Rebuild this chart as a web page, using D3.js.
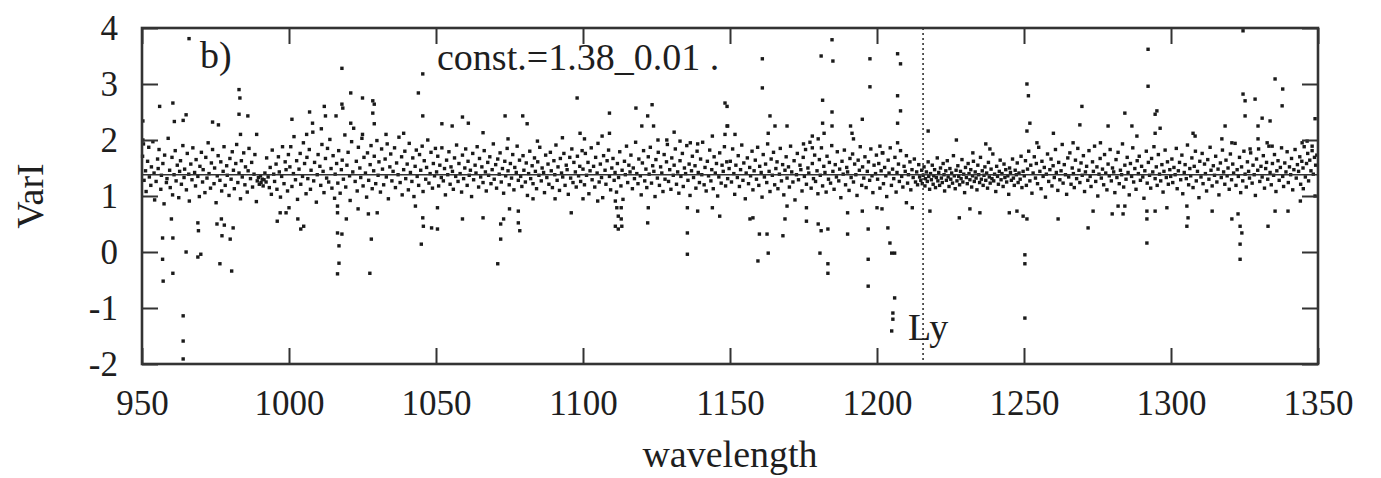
<!DOCTYPE html>
<html>
<head>
<meta charset="utf-8">
<script src="https://cdn.jsdelivr.net/npm/d3@7"></script>
</head>
<body style="margin:0;background:#fff">
<script>
// axis ticks
var xTicks = [950, 1000, 1050, 1100, 1150, 1200, 1250, 1300, 1350];
var yTicks = [-2, -1, 0, 1, 2, 3, 4];
var constLevel = 1.38;
var lyWave = 1215.67;

// VarI per wavelength in 50 A pieces
var seg950 = [[950.2,1.71],[950.5,1.93],[950.7,1.28],[951.2,1.45],[951.4,1.08],[951.9,1.62],[952.3,1.87],[952.5,1.34],[953.0,1.19],[953.2,1.52],
[953.7,1.97],[954.1,1.41],[954.3,0.93],[954.8,1.26],[955.3,1.66],[955.5,1.49],[955.8,1.83],[956.4,1.12],[956.6,1.37],[957.1,1.58],
[957.5,0.86],[957.7,1.73],[958.3,1.24],[958.5,1.31],[958.9,2.03],[959.4,1.46],[959.6,1.15],[960.2,1.69],[960.4,1.02],[960.9,1.38],
[961.3,1.81],[961.6,1.27],[962.0,1.55],[962.5,0.97],[962.8,1.44],[963.1,1.63],[963.4,1.21],[963.9,1.90],[964.3,1.33],[964.5,1.48],
[965.1,1.11],[965.4,1.76],[965.9,1.39],[966.1,0.91],[966.6,1.57],[967.0,1.29],[967.3,1.86],[967.9,1.42],[968.2,1.18],[968.4,1.65],
[969.0,1.35],[969.5,0.99],[969.7,1.53],[970.2,1.78],[970.6,1.25],[970.8,1.47],[971.4,1.06],[971.7,1.69],[972.1,1.32],[972.5,1.95],
[972.8,1.40],[973.3,1.14],[973.6,1.59],[974.0,1.83],[974.5,1.22],[974.7,1.50],[975.2,0.88],[975.6,1.36],[975.9,1.72],[976.5,1.28],
[976.8,1.61],[977.1,1.09],[977.6,1.44],[977.9,1.88],[978.3,1.19],[978.8,1.54],[979.0,1.37],[979.6,1.01],[979.9,1.67],[980.3,1.30],
[980.7,1.79],[981.1,1.46],[981.4,1.13],[981.9,1.58],[982.2,1.92],[982.6,1.24],[983.0,1.41],[983.5,0.95],[983.8,1.63],[984.1,1.34],
[984.6,1.77],[985.0,1.20],[985.2,1.52],[985.8,1.07],[986.1,1.45],[986.4,1.85],[986.9,1.31],[987.3,1.60],[987.6,1.16],[988.1,1.39],
[988.4,1.74],[988.9,0.90],[989.2,1.27],[989.6,1.33],[989.9,1.21],[990.3,1.36],[990.5,1.24],[990.9,1.30],[991.2,1.18],[991.5,1.29],
[991.8,1.41],[992.2,1.25],[992.4,1.68],[992.9,1.34],[993.3,1.15],[993.6,1.51],[994.0,1.03],[994.3,1.82],[994.8,1.39],[995.1,1.26],
[995.6,1.57],[995.9,1.12],[996.4,1.70],[996.7,1.43],[997.1,0.98],[997.5,1.35],[997.8,1.88],[998.3,1.22],[998.7,1.61],[999.0,1.47],
[999.5,1.09],[999.8,1.74]];

var seg1000 = [[1000.3,1.52],[1000.6,1.88],[1001.0,1.17],[1001.5,1.40],[1001.7,2.06],[1002.2,1.29],[1002.6,1.63],[1002.9,0.94],[1003.4,1.48],[1003.8,1.76],
[1004.0,1.21],[1004.6,1.35],[1004.9,1.95],[1005.3,1.58],[1005.8,1.04],[1006.1,1.69],[1006.4,1.31],[1006.9,1.83],[1007.3,1.12],[1007.5,1.46],
[1008.1,2.14],[1008.4,1.27],[1008.7,1.60],[1009.3,0.89],[1009.6,1.38],[1009.9,1.74],[1010.5,1.53],[1010.8,1.19],[1011.2,1.92],[1011.6,1.44],
[1011.9,1.06],[1012.4,1.67],[1012.8,1.32],[1013.1,1.85],[1013.5,1.25],[1013.9,2.01],[1014.3,1.49],[1014.6,1.14],[1015.0,1.72],[1015.5,0.96],
[1015.7,1.39],[1016.2,1.58],[1016.6,1.23],[1016.9,1.81],[1017.4,1.05],[1017.8,1.47],[1018.1,1.64],[1018.5,1.30],[1019.0,2.09],[1019.3,1.16],
[1019.7,1.55],[1020.1,1.78],[1020.6,1.36],[1020.8,0.92],[1021.3,1.97],[1021.7,1.43],[1022.0,2.21],[1022.5,1.26],[1022.9,1.62],[1023.2,1.09],
[1023.6,1.87],[1024.1,1.50],[1024.4,1.33],[1024.8,2.03],[1025.2,1.18],[1025.5,1.69],[1026.0,1.41],[1026.4,0.98],[1026.7,1.77],[1027.1,1.28],
[1027.6,1.56],[1027.9,1.90],[1028.3,1.13],[1028.8,1.45],[1029.0,1.71],[1029.5,1.22],[1029.9,1.99],[1030.3,1.37],[1030.6,1.61],[1031.1,1.07],
[1031.5,1.84],[1031.8,1.48],[1032.2,1.20],[1032.7,1.66],[1033.1,1.34],[1033.4,1.93],[1033.8,0.95],[1034.3,1.52],[1034.6,1.75],[1035.0,1.27],
[1035.4,1.44],[1035.9,1.86],[1036.2,1.15],[1036.6,1.59],[1037.1,1.38],[1037.4,2.05],[1037.8,1.24],[1038.3,1.70],[1038.5,1.02],[1039.0,1.47],
[1039.4,1.80],[1039.7,1.31],[1040.2,1.57],[1040.6,1.11],[1040.9,1.94],[1041.3,1.42],[1041.8,1.26],[1042.1,1.68],[1042.5,0.99],[1042.9,1.53],
[1043.3,1.82],[1043.6,1.35],[1044.1,1.19],[1044.4,1.74],[1044.8,1.46],[1045.3,1.89],[1045.6,1.08],[1046.0,1.63],[1046.5,1.30],[1046.8,1.51],
[1047.2,2.00],[1047.6,1.23],[1048.0,1.40],[1048.3,1.78],[1048.8,1.14],[1049.1,1.58],[1049.5,1.36],[1049.8,1.85]];

var seg1050 = [[1050.2,1.43],[1050.6,1.71],[1050.9,1.18],[1051.3,1.55],[1051.8,1.33],[1052.0,1.86],[1052.5,1.27],[1052.9,1.49],[1053.2,1.02],[1053.6,1.64],
[1054.0,1.38],[1054.4,1.79],[1054.8,1.21],[1055.1,1.52],[1055.6,1.44],[1055.9,1.12],[1056.3,1.68],[1056.7,1.35],[1057.0,1.91],[1057.5,1.26],
[1057.8,1.58],[1058.2,1.40],[1058.7,1.07],[1059.0,1.73],[1059.4,1.31],[1059.8,1.50],[1060.1,1.84],[1060.6,1.19],[1060.9,1.62],[1061.3,1.37],
[1061.7,1.46],[1062.1,0.99],[1062.5,1.76],[1062.8,1.29],[1063.3,1.55],[1063.6,1.41],[1064.0,1.88],[1064.5,1.16],[1064.8,1.67],[1065.2,1.34],
[1065.6,1.52],[1066.0,1.24],[1066.4,1.81],[1066.8,1.43],[1067.1,1.09],[1067.6,1.60],[1067.9,1.37],[1068.3,1.70],[1068.7,1.22],[1069.1,1.47],
[1069.5,1.93],[1069.8,1.30],[1070.3,1.56],[1070.6,1.14],[1071.0,1.66],[1071.5,1.39],[1071.8,1.77],[1072.2,1.25],[1072.6,1.49],[1073.0,1.05],
[1073.4,1.62],[1073.7,1.36],[1074.2,1.85],[1074.5,1.45],[1074.9,1.20],[1075.3,1.58],[1075.7,1.32],[1076.1,1.74],[1076.5,1.11],[1076.8,1.51],
[1077.3,1.42],[1077.6,1.89],[1078.0,1.28],[1078.4,1.64],[1078.8,1.35],[1079.2,1.17],[1079.6,1.72],[1079.9,1.46],[1080.4,1.25],[1080.7,1.59],
[1081.1,1.01],[1081.5,1.40],[1081.9,1.80],[1082.2,1.31],[1082.7,1.54],[1083.0,1.22],[1083.5,1.68],[1083.8,1.44],[1084.2,1.13],[1084.6,1.61],
[1085.0,1.37],[1085.3,1.87],[1085.8,1.27],[1086.1,1.50],[1086.6,1.42],[1086.9,1.06],[1087.3,1.73],[1087.7,1.33],[1088.1,1.57],[1088.4,1.21],
[1088.9,1.78],[1089.2,1.45],[1089.6,1.15],[1090.1,1.63],[1090.4,1.38],[1090.8,1.91],[1091.2,1.28],[1091.5,1.52],[1092.0,1.10],[1092.3,1.67],
[1092.7,1.41],[1093.1,1.34],[1093.5,1.76],[1093.9,1.19],[1094.3,1.55],[1094.6,1.47],[1095.0,1.03],[1095.5,1.69],[1095.8,1.32],[1096.2,1.84],
[1096.6,1.24],[1096.9,1.60],[1097.4,1.43],[1097.7,1.16],[1098.1,1.71],[1098.5,1.36],[1098.9,1.53],[1099.2,1.26],[1099.7,1.81]];

var seg1100 = [[1100.0,1.48],[1100.5,1.20],[1100.8,1.76],[1101.2,1.37],[1101.7,1.60],[1102.0,1.04],[1102.4,1.45],[1102.8,1.86],[1103.1,1.29],[1103.6,1.53],
[1104.0,1.16],[1104.3,1.69],[1104.8,1.41],[1105.1,1.94],[1105.5,1.25],[1105.9,1.57],[1106.3,1.33],[1106.7,0.97],[1107.0,1.72],[1107.5,1.46],
[1107.8,1.21],[1108.2,1.63],[1108.7,1.82],[1109.0,1.35],[1109.4,1.11],[1109.8,1.50],[1110.2,1.67],[1110.6,1.28],[1110.9,1.42],[1111.4,1.07],
[1111.7,1.58],[1112.1,1.33],[1112.5,1.79],[1112.9,1.18],[1113.3,1.46],[1113.6,0.94],[1114.1,1.62],[1114.4,1.38],[1114.8,1.89],[1115.2,1.24],
[1115.6,1.55],[1116.0,1.43],[1116.3,1.73],[1116.8,1.13],[1117.1,1.50],[1117.5,1.31],[1117.9,1.96],[1118.3,1.40],[1118.7,1.22],[1119.0,1.66],
[1119.5,1.36],[1119.8,1.02],[1120.2,1.59],[1120.6,1.81],[1121.0,1.27],[1121.4,1.48],[1121.7,1.15],[1122.2,1.70],[1122.5,1.39],[1122.9,1.87],
[1123.3,1.23],[1123.7,1.54],[1124.1,1.44],[1124.5,0.99],[1124.8,1.65],[1125.3,1.32],[1125.6,1.78],[1126.0,1.19],[1126.4,1.52],[1126.8,1.41],
[1127.2,1.08],[1127.6,1.74],[1127.9,1.30],[1128.4,1.61],[1128.7,1.92],[1129.1,1.26],[1129.5,1.47],[1129.9,1.12],[1130.2,1.68],[1130.7,1.37],
[1131.0,1.55],[1131.4,1.84],[1131.8,1.21],[1132.2,1.43],[1132.6,1.05],[1133.0,1.63],[1133.3,1.35],[1133.8,1.76],[1134.1,1.17],[1134.5,1.50],
[1134.9,1.40],[1135.3,1.90],[1135.7,1.28],[1136.1,1.57],[1136.4,1.01],[1136.9,1.45],[1137.2,1.71],[1137.6,1.33],[1138.1,1.54],[1138.4,1.14],
[1138.8,1.80],[1139.2,1.42],[1139.6,1.24],[1140.0,1.66],[1140.4,1.38],[1140.7,1.96],[1141.2,1.20],[1141.5,1.51],[1141.9,1.09],[1142.3,1.62],
[1142.7,1.36],[1143.1,1.82],[1143.5,1.27],[1143.8,1.47],[1144.3,1.13],[1144.6,1.70],[1145.0,1.41],[1145.4,1.58],[1145.8,1.00],[1146.2,1.34],
[1146.5,1.77],[1147.0,1.23],[1147.3,1.55],[1147.7,1.44],[1148.1,1.88],[1148.5,1.18],[1148.9,1.61],[1149.2,1.31],[1149.7,1.49]];

var seg1150 = [[1150.1,1.62],[1150.5,1.25],[1150.9,1.84],[1151.3,1.40],[1151.6,1.03],[1152.0,1.55],[1152.5,1.33],[1152.8,1.72],[1153.2,1.17],[1153.6,1.47],
[1154.0,1.91],[1154.4,1.28],[1154.7,1.59],[1155.2,0.95],[1155.5,1.41],[1155.9,1.68],[1156.3,1.22],[1156.7,1.51],[1157.0,1.36],[1157.5,1.80],
[1157.8,1.11],[1158.2,1.45],[1158.6,1.64],[1159.0,1.30],[1159.4,1.87],[1159.8,1.19],[1160.1,1.53],[1160.6,1.42],[1160.9,0.98],[1161.3,1.74],
[1161.7,1.34],[1162.1,1.57],[1162.5,1.24],[1162.8,1.93],[1163.3,1.44],[1163.6,1.08],[1164.0,1.66],[1164.4,1.37],[1164.8,1.78],[1165.2,1.20],
[1165.6,1.49],[1166.0,1.61],[1166.3,1.13],[1166.8,1.39],[1167.1,1.85],[1167.5,1.27],[1167.9,1.56],[1168.3,1.02],[1168.7,1.46],[1169.1,1.70],
[1169.4,1.32],[1169.9,1.52],[1170.2,1.16],[1170.6,1.89],[1171.0,1.43],[1171.4,1.25],[1171.8,1.63],[1172.1,0.93],[1172.6,1.38],[1172.9,1.76],
[1173.3,1.29],[1173.8,1.55],[1174.1,1.47],[1174.5,1.09],[1174.9,1.69],[1175.3,1.35],[1175.7,1.83],[1176.0,1.21],[1176.5,1.50],[1176.8,1.41],
[1177.2,1.96],[1177.6,1.14],[1178.0,1.58],[1178.4,1.31],[1178.8,1.73],[1179.1,1.26],[1179.6,1.45],[1179.9,1.04],[1180.4,1.65],[1180.7,1.37],
[1181.1,1.86],[1181.5,1.18],[1181.9,1.53],[1182.3,1.42],[1182.7,1.07],[1183.0,1.71],[1183.5,1.30],[1183.8,1.60],[1184.2,1.23],[1184.6,1.90],
[1185.0,1.44],[1185.4,1.12],[1185.8,1.56],[1186.2,1.34],[1186.5,1.79],[1187.0,1.27],[1187.3,1.48],[1187.7,0.97],[1188.1,1.62],[1188.5,1.39],
[1188.9,1.82],[1189.3,1.20],[1189.7,1.51],[1190.0,1.43],[1190.5,1.10],[1190.8,1.67],[1191.2,1.33],[1191.7,1.75],[1192.0,1.25],[1192.4,1.57],
[1192.8,1.38],[1193.2,1.01],[1193.6,1.64],[1194.0,1.46],[1194.3,1.88],[1194.8,1.19],[1195.1,1.52],[1195.5,1.32],[1195.9,1.70],[1196.3,1.15],
[1196.7,1.44],[1197.1,1.61],[1197.5,1.28],[1197.9,1.84],[1198.3,1.36],[1198.6,1.06],[1199.0,1.55],[1199.5,1.40],[1199.8,1.73]];

var seg1200 = [[1200.2,1.30],[1200.6,1.58],[1201.0,1.14],[1201.4,1.45],[1201.8,1.77],[1202.2,1.22],[1202.6,1.51],[1203.0,1.36],[1203.3,0.99],[1203.8,1.64],
[1204.1,1.41],[1204.5,1.86],[1204.9,1.19],[1205.3,1.48],[1205.7,1.31],[1206.1,1.69],[1206.5,1.07],[1206.8,1.42],[1207.3,1.57],[1207.6,1.26],
[1208.0,1.81],[1208.4,1.35],[1208.8,1.16],[1209.2,1.53],[1209.6,1.44],[1210.0,1.72],[1210.4,1.23],[1210.7,1.38],[1211.2,1.61],[1211.5,1.11],
[1211.9,1.47],[1212.3,1.33],[1212.7,1.66],[1213.1,1.25],[1213.5,1.43],[1213.8,1.20],[1214.2,1.56],[1214.5,1.34],[1214.9,1.28],[1215.2,1.46],
[1215.4,1.22],[1215.7,1.37],[1216.0,1.52],[1216.3,1.18],[1216.5,1.31],[1216.8,1.43],[1217.1,1.26],[1217.4,1.61],[1217.6,1.35],[1217.9,1.12],
[1218.2,1.40],[1218.5,1.29],[1218.8,1.55],[1219.1,1.21],[1219.3,1.36],[1219.6,1.47],[1219.9,1.15],[1220.2,1.33],[1220.5,1.68],[1220.7,1.27],
[1221.0,1.42],[1221.3,1.19],[1221.6,1.50],[1221.9,1.32],[1222.2,1.24],[1222.5,1.58],[1222.8,1.38],[1223.0,1.09],[1223.4,1.45],[1223.6,1.28],
[1223.9,1.63],[1224.2,1.34],[1224.5,1.17],[1224.8,1.49],[1225.1,1.30],[1225.4,1.41],[1225.7,1.23],[1226.0,1.72],[1226.3,1.36],[1226.6,1.13],
[1226.9,1.46],[1227.2,1.27],[1227.5,1.54],[1227.8,1.35],[1228.1,1.20],[1228.4,1.44],[1228.6,1.31],[1228.9,1.65],[1229.2,1.25],[1229.5,1.39],
[1229.8,1.06],[1230.1,1.51],[1230.4,1.33],[1230.7,1.22],[1231.0,1.58],[1231.3,1.40],[1231.6,1.29],[1231.9,1.47],[1232.2,1.16],[1232.5,1.36],
[1232.8,1.62],[1233.1,1.26],[1233.4,1.43],[1233.7,1.32],[1234.0,1.11],[1234.3,1.55],[1234.6,1.38],[1234.9,1.24],[1235.2,1.69],[1235.5,1.30],
[1235.8,1.45],[1236.1,1.19],[1236.4,1.37],[1236.7,1.52],[1237.0,1.28],[1237.3,1.41],[1237.6,1.14],[1237.9,1.60],[1238.2,1.34],[1238.5,1.23],
[1238.8,1.48],[1239.1,1.31],[1239.4,1.75],[1239.7,1.27],[1240.0,1.39],[1240.4,1.08],[1240.7,1.53],[1241.0,1.35],[1241.3,1.21],[1241.6,1.44],
[1241.9,1.64],[1242.2,1.29],[1242.5,1.40],[1242.9,1.17],[1243.2,1.57],[1243.5,1.33],[1243.8,1.47],[1244.1,1.25],[1244.5,1.36],[1244.8,1.03],
[1245.1,1.50],[1245.4,1.42],[1245.7,1.28],[1246.1,1.66],[1246.4,1.32],[1246.7,1.19],[1247.0,1.46],[1247.4,1.38],[1247.7,1.59],[1248.0,1.24],
[1248.3,1.41],[1248.7,1.30],[1249.0,1.71],[1249.3,1.15],[1249.7,1.44]];

var seg1250 = [[1250.1,1.36],[1250.5,1.63],[1250.8,1.19],[1251.2,1.48],[1251.6,1.80],[1252.0,1.27],[1252.3,1.55],[1252.7,1.05],[1253.1,1.41],[1253.5,1.70],
[1253.9,1.32],[1254.2,1.58],[1254.6,1.22],[1255.0,1.87],[1255.4,1.44],[1255.8,1.13],[1256.1,1.62],[1256.5,1.35],[1256.9,1.51],[1257.3,0.98],
[1257.6,1.39],[1258.0,1.75],[1258.4,1.26],[1258.8,1.47],[1259.2,1.66],[1259.5,1.18],[1259.9,1.54],[1260.3,1.33],[1260.7,1.83],[1261.0,1.42],
[1261.5,1.10],[1261.8,1.60],[1262.2,1.29],[1262.6,1.45],[1263.0,1.92],[1263.3,1.23],[1263.7,1.56],[1264.1,1.38],[1264.5,1.03],[1264.9,1.68],
[1265.2,1.34],[1265.6,1.77],[1266.0,1.21],[1266.4,1.50],[1266.8,1.40],[1267.1,1.15],[1267.5,1.64],[1267.9,1.31],[1268.3,1.85],[1268.7,1.46],
[1269.0,1.24],[1269.4,1.59],[1269.8,1.37],[1270.2,1.72],[1270.6,1.08],[1270.9,1.43],[1271.3,1.53],[1271.7,1.28],[1272.1,1.81],[1272.5,1.35],
[1272.8,1.17],[1273.3,1.61],[1273.6,1.44],[1274.0,1.89],[1274.4,1.26],[1274.8,1.52],[1275.1,1.00],[1275.5,1.39],[1275.9,1.67],[1276.3,1.32],
[1276.7,1.48],[1277.1,1.20],[1277.4,1.74],[1277.8,1.41],[1278.2,1.11],[1278.6,1.57],[1279.0,1.36],[1279.3,1.83],[1279.7,1.27],[1280.1,1.50],
[1280.5,1.43],[1280.9,1.06],[1281.3,1.65],[1281.6,1.33],[1282.0,1.78],[1282.4,1.22],[1282.8,1.46],[1283.2,1.38],[1283.5,1.93],[1283.9,1.16],
[1284.3,1.55],[1284.7,1.30],[1285.1,1.69],[1285.4,1.42],[1285.8,1.02],[1286.2,1.58],[1286.6,1.35],[1287.0,1.86],[1287.3,1.25],[1287.7,1.49],
[1288.1,1.12],[1288.5,1.63],[1288.9,1.40],[1289.2,1.71],[1289.6,1.28],[1290.0,1.53],[1290.4,1.34],[1290.8,0.96],[1291.1,1.45],[1291.6,1.80],
[1291.9,1.23],[1292.3,1.60],[1292.7,1.37],[1293.1,1.14],[1293.4,1.67],[1293.8,1.43],[1294.2,1.88],[1294.6,1.31],[1295.0,1.52],[1295.3,1.19],
[1295.7,1.74],[1296.1,1.39],[1296.5,1.27],[1296.9,1.56],[1297.3,1.07],[1297.6,1.44],[1298.0,1.82],[1298.4,1.33],[1298.8,1.61],[1299.1,1.21],
[1299.6,1.47],[1299.9,1.35]];

var seg1300 = [[1300.3,1.66],[1300.6,1.24],[1301.0,1.51],[1301.4,1.38],[1301.8,1.85],[1302.1,1.13],[1302.5,1.45],[1302.9,1.60],[1303.3,1.29],[1303.7,1.73],
[1304.0,1.04],[1304.5,1.42],[1304.8,1.56],[1305.2,1.31],[1305.6,1.91],[1306.0,1.20],[1306.4,1.49],[1306.7,1.36],[1307.1,1.68],[1307.5,1.15],
[1307.9,1.53],[1308.3,1.80],[1308.6,1.27],[1309.0,1.44],[1309.5,0.97],[1309.8,1.62],[1310.2,1.34],[1310.6,1.76],[1310.9,1.22],[1311.4,1.57],
[1311.7,1.40],[1312.1,1.09],[1312.5,1.65],[1312.9,1.30],[1313.3,1.87],[1313.6,1.46],[1314.0,1.18],[1314.4,1.54],[1314.8,1.37],[1315.2,1.71],
[1315.6,1.25],[1316.0,1.48],[1316.3,1.02],[1316.8,1.59],[1317.1,1.33],[1317.5,1.82],[1317.9,1.43],[1318.3,1.21],[1318.7,1.64],[1319.1,1.36],
[1319.4,1.50],[1319.8,1.12],[1320.2,1.75],[1320.6,1.29],[1321.0,1.57],[1321.3,1.41],[1321.8,1.94],[1322.1,1.19],[1322.5,1.47],[1322.9,1.35],
[1323.3,1.69],[1323.7,1.06],[1324.0,1.52],[1324.4,1.27],[1324.8,1.80],[1325.2,1.39],[1325.6,1.16],[1326.0,1.61],[1326.4,1.44],[1326.7,1.32],
[1327.1,1.77],[1327.6,1.23],[1327.9,1.55],[1328.3,1.38],[1328.7,1.01],[1329.1,1.66],[1329.5,1.46],[1329.8,1.84],[1330.2,1.26],[1330.6,1.53],
[1331.0,1.34],[1331.4,1.72],[1331.8,1.14],[1332.2,1.49],[1332.5,1.60],[1332.9,1.30],[1333.3,1.89],[1333.7,1.42],[1334.1,1.20],[1334.5,1.58],
[1334.9,1.37],[1335.2,1.74],[1335.7,1.08],[1336.0,1.45],[1336.4,1.63],[1336.8,1.28],[1337.2,1.51],[1337.6,1.86],[1338.0,1.35],[1338.3,1.17],
[1338.7,1.59],[1339.1,1.43],[1339.5,1.79],[1339.9,1.24],[1340.3,1.52],[1340.7,1.38],[1341.0,1.67],[1341.4,1.11],[1341.8,1.47],[1342.2,1.83],
[1342.6,1.32],[1343.0,1.56],[1343.4,1.44],[1343.8,1.70],[1344.1,1.21],[1344.5,1.62],[1344.9,1.50],[1345.3,1.88],[1345.7,1.34],[1346.1,1.58],
[1346.5,1.76],[1346.8,1.27],[1347.2,1.64],[1347.6,1.45],[1348.0,1.81],[1348.4,1.39],[1348.8,1.69],[1349.2,1.55],[1349.6,1.73]];

// points well above / below the band
var outliers = [[966,3.81],[983,2.9],[983.3,2.75],[983,2.46],[986,2.43],[956,2.6],[960.5,2.66],[961,2.33],[964,2.35],[965,2.45],[974,2.32],[976,2.27],[983.5,2.1],[989,2.1],
[1001,2.37],[1007,2.5],[1008,2.3],[1012,2.6],[1012.4,2.43],[1016,2.43],[1011,2.2],[1006,2.1],
[960,0.59],[957,0.25],[960.5,0.25],[969,0.52],[969.2,0.38],[975.5,0.5],[978,0.48],[977,0.59],[977.2,0.29],[981,0.43],[980,0.23],
[965,0],[970,-0.04],[969,-0.09],[957,-0.13],[957.2,-0.52],[960.5,-0.38],[976.5,-0.21],[980.5,-0.34],[964,-1.14],[964,-1.59],[964,-1.91],
[1004,0.41],[1005,0.46],[1003,0.59],[996,0.55],[997,0.7],[999,0.7],[1000,0.79],[950.3,2.0],[950.3,2.34],
[1018,3.28],[1045.5,3.18],[1044,2.84],[1045.5,2.43],[1021,2.84],[1025,2.75],[1028.5,2.7],[1029,2.64],[1018,2.64],[1018.3,2.57],
[1028.5,2.48],[1029,2.29],[1021,2.3],[1025,2.1],[1033,2.1],[1039,2.12],
[1059,2.41],[1061,2.3],[1052,2.29],[1055.5,2.25],[1066,2.13],[1073.5,2.43],[1079.5,2.43],[1081,2.29],[1074.5,2.02],
[1016.5,0.82],[1016.5,0.7],[1019.5,0.59],[1016.5,0.34],[1018,0.32],[1017,0.11],[1017,-0.2],[1016.5,-0.39],
[1023.5,0.77],[1027,0.68],[1030,0.7],[1028,0.23],[1027.5,-0.38],
[1043,0.82],[1045.5,0.61],[1045.7,0.46],[1048.5,0.43],[1050.5,0.41],[1045,0.14],
[1050.5,0.79],[1059,0.59],[1066,0.61],[1072,0.5],[1073,0.59],[1072,0.23],[1071,-0.21],
[1075,0.77],[1078,0.73],[1078,0.52],[1078.5,0.38],
[1098,2.75],[1109,2.48],[1118,2.57],[1123.5,2.63],[1122,2.43],[1120,2.25],[1124,2.25],[1149,2.6],[1149,2.25],[1144,2.07],[1131,2.14],
[1099,2.12],[1100.5,2.02],[1106.5,2.07],[1109,2.12],[1084.5,1.98],[1093,2.04],
[1125.5,2.0],[1128.5,2.0],[1133,1.98],[1136.5,1.95],[1139,1.93],
[1083,0.95],[1090.5,0.95],[1096,0.7],[1100,0.95],[1105,0.91],
[1111,0.91],[1111.5,0.79],[1113,0.79],[1112,0.64],[1113,0.59],[1111,0.46],[1112,0.41],[1113.2,0.46],
[1122,0.52],[1122.2,0.79],[1135.5,0.34],[1135.5,-0.04],[1135.5,0.79],[1139,0.73],[1144,0.79],[1146.5,0.64],
[1184.7,3.79],[1181,3.5],[1185,3.41],[1161,3.45],[1161,2.93],[1197.6,3.45],[1197.6,2.95],
[1207,3.54],[1208,3.36],[1207,2.79],[1208,2.52],[1207,2.3],
[1181.5,2.71],[1184.7,2.5],[1181.5,2.3],[1184.7,2.25],[1182,2.12],
[1191,2.25],[1191.5,2.12],[1192,2.02],[1195,2.37],[1148.3,2.66],[1149.2,2.25],
[1163.6,2.43],[1165.3,2.25],[1169.4,2.25],[1163,2.12],[1178,2.07],[1180,2.02],[1148.3,2.1],[1151.7,2.1],[1175,1.93],[1178,1.86],
[1201,1.89],[1202,1.77],[1207,1.95],
[1156.8,0.59],[1157.8,0.61],[1160,0.32],[1162.6,0.32],[1168,0.29],[1163,-0.02],[1159.5,-0.16],
[1168.7,0.59],[1176,0.55],[1169.4,0.82],[1176,0.79],
[1180,0.5],[1181,0.38],[1183.3,0.41],[1180.6,-0.02],[1183.3,-0.21],[1183.3,-0.38],
[1190,0.7],[1190,0.32],[1197,0.41],[1197,-0.13],[1197,-0.61],
[1203.7,0.43],[1204.4,0.16],[1205,-0.02],[1206,-0.02],
[1206,-0.82],[1205.4,-1.09],[1205.4,-1.2],[1205,-1.41],
[1200,0.79],[1201.7,0.77],[1195,0.73],[1210,0.88],[1212,0.79],
[1251,3.0],[1251.5,2.79],[1252,2.3],[1251,2.16],
[1269.7,2.6],[1269,2.27],[1278.6,2.25],
[1217.4,2.16],[1227,2.0],[1260,2.12],[1266.7,1.95],[1276,1.95],
[1237,1.93],[1238.4,1.84],[1232.6,1.77],[1254.4,1.95],
[1228,0.61],[1231.6,0.77],[1235,0.7],[1245,0.7],[1247.6,0.73],[1249.7,0.64],[1251,0.59],
[1261.6,0.59],[1271.8,0.43],[1273.5,0.73],[1280,0.68],[1218,0.73],
[1250.3,-0.05],[1250.3,-0.21],[1250.3,-1.18],
[1292.2,3.62],[1292.2,2.96],[1295.2,2.52],[1294.6,2.46],[1286.7,2.25],[1288.4,2.07],[1284.3,2.48],[1294.6,2.12],[1296.3,2.21],
[1324.5,2.82],[1325.2,2.7],[1325.2,2.43],[1328.6,2.73],[1329.6,2.25],[1333.7,2.34],[1331,2.39],[1335.4,3.09],[1338,2.91],[1337.8,2.61],
[1307.5,2.12],[1308.2,2.07],[1318.4,2.25],[1317.3,2.02],[1320.7,1.95],[1326.9,1.84],[1329.6,2.02],[1332.7,1.95],[1334.4,1.89],
[1349,2.38],[1344.6,1.95],[1346.3,1.98],[1348,1.89],[1324.5,3.95],
[1291.8,0.73],[1291.8,0.59],[1294.6,0.73],[1291.8,0.16],[1298.6,0.79],[1305.4,0.82],[1305.8,0.61],[1305.4,0.46],[1314,0.73],
[1320.7,0.59],[1322.8,0.68],[1323.5,0.46],[1324.1,0.34],[1323.5,0.14],[1323.5,-0.13],[1333,0.46],[1335.4,0.73],[1339.8,0.73],
[1283.7,0.68],[1284.3,0.82],[1282,0.82],[1344,0.91],[1345,1.13],[1349,1.0]];

var points = [].concat(seg950, seg1000, seg1050, seg1100, seg1150, seg1200, seg1250, seg1300, outliers);

var W = 1381, H = 478;
var margin = {top: 28, right: 63, bottom: 114, left: 142},
    width = W - margin.left - margin.right,
    height = H - margin.top - margin.bottom;

var FONT = '"Liberation Serif", monospace';
var ink = "#333";

var svg = d3.select("body")
  .append("svg")
  .attr("width", W)
  .attr("height", H);

var g = svg.append("g")
  .attr("transform", "translate(" + margin.left + "," + margin.top + ")");

var x = d3.scaleLinear().domain([950, 1350]).range([0, width]);
var y = d3.scaleLinear().domain([-2, 4]).range([height, 0]);

// points
g.append("g")
  .selectAll("rect")
  .data(points)
  .enter()
  .append("rect")
  .attr("x", function(d) { return x(d[0]) - 1.7; })
  .attr("y", function(d) { return y(d[1]) - 1.7; })
  .attr("width", 3.4)
  .attr("height", 3.4)
  .attr("fill", "#1a1a1a");

// fitted constant
g.append("line")
  .attr("x1", 0).attr("x2", width)
  .attr("y1", y(constLevel)).attr("y2", y(constLevel))
  .attr("stroke", ink)
  .attr("stroke-width", 1.6);

// Lyman alpha
g.append("line")
  .attr("x1", x(lyWave)).attr("x2", x(lyWave))
  .attr("y1", 0).attr("y2", height)
  .attr("stroke", ink)
  .attr("stroke-width", 1.6)
  .attr("stroke-dasharray", "2,3");

// axes, ticks pointing inward on all four sides
var tick = 16;
var xBottom = g.append("g")
  .attr("transform", "translate(0," + height + ")")
  .call(d3.axisBottom(x).tickValues(xTicks).tickSize(-tick).tickPadding(26).tickFormat(d3.format("d")));
var xTop = g.append("g")
  .call(d3.axisTop(x).tickValues(xTicks).tickSize(-tick).tickFormat(""));
var yLeft = g.append("g")
  .call(d3.axisLeft(y).tickValues(yTicks).tickSize(-tick).tickPadding(24).tickFormat(function(d) { return d < 0 ? "-" + (-d) : d; }));
var yRight = g.append("g")
  .attr("transform", "translate(" + width + ",0)")
  .call(d3.axisRight(y).tickValues(yTicks).tickSize(-tick).tickFormat(""));

[xBottom, xTop, yLeft, yRight].forEach(function(a) {
  a.attr("font-family", null).attr("font-size", null);
  a.select(".domain").remove();
  a.selectAll(".tick line").attr("stroke", ink).attr("stroke-width", 2);
  a.selectAll(".tick text")
    .attr("fill", "#1e1e1e")
    .attr("font-size", 35)
    .style("font-family", FONT);
});

// frame
g.append("rect")
  .attr("width", width)
  .attr("height", height)
  .attr("fill", "none")
  .attr("stroke", ink)
  .attr("stroke-width", 2.6);

// labels
function label(parent) {
  return parent.append("text")
    .attr("fill", "#1e1e1e")
    .attr("font-size", 38)
    .style("font-family", FONT);
}

label(svg)
  .attr("text-anchor", "middle")
  .attr("x", margin.left + width / 2)
  .attr("y", 467)
  .text("wavelength");

label(svg)
  .attr("text-anchor", "middle")
  .attr("transform", "translate(43," + (margin.top + height / 2) + ") rotate(-90)")
  .text("VarI");

label(g)
  .attr("x", 58)
  .attr("y", 40)
  .text("b)");

label(g)
  .attr("x", 295)
  .attr("y", 42)
  .text("const.=1.38_0.01 .");

label(g)
  .attr("x", x(lyWave) - 15)
  .attr("y", 312)
  .text("Ly");
</script>
</body>
</html>
